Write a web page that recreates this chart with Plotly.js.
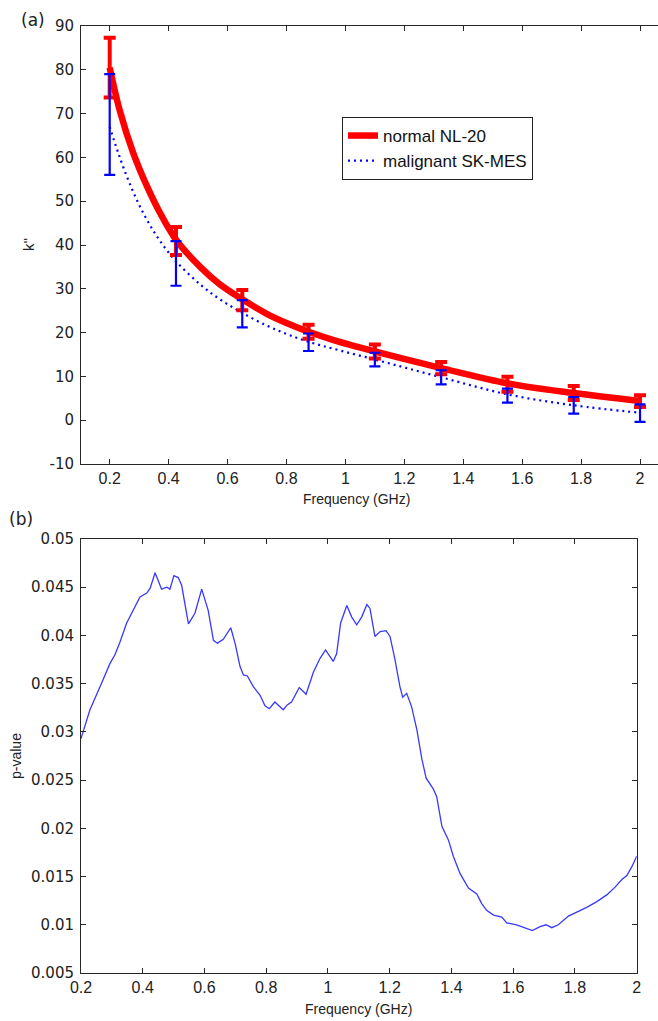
<!DOCTYPE html>
<html>
<head>
<meta charset="utf-8">
<script src="https://cdn.plot.ly/plotly-3.0.1.min.js"></script>
<style>
html,body{margin:0;padding:0;background:#fff;}
#chart{width:658px;height:1021px;}
</style>
</head>
<body>
<div id="chart"></div>
<script>
// ---------- Data: panel (a) ----------
const freqPoints = [0.2, 0.425, 0.65, 0.875, 1.1, 1.325, 1.55, 1.775, 2.0];
const normalMean = [80.5, 40.9, 27.4, 20.2, 15.7, 11.9, 8.2, 6.2, 4.35];
const normalErr  = [6.8, 3.2, 2.3, 1.6, 1.6, 1.4, 1.7, 1.6, 1.35];
const malignMean = [67.5, 35.8, 24.3, 17.8, 13.85, 9.8, 5.6, 3.4, 1.6];
const malignErr  = [11.5, 5.1, 3.1, 2.0, 1.55, 1.6, 1.6, 1.9, 2.0];

const normalLineX = [0.2, 0.235, 0.28, 0.326, 0.371, 0.425, 0.507, 0.574, 0.65, 0.733, 0.80, 0.875, 0.96, 1.1, 1.325, 1.55, 1.775, 2.0];
const normalLineY = [80.5, 70.5, 61.0, 53.5, 47.3, 41.2, 35.0, 31.0, 27.6, 24.3, 22.2, 20.2, 18.3, 15.7, 11.9, 8.4, 6.2, 4.4];
const malignLineX = [0.2, 0.229, 0.268, 0.314, 0.365, 0.425, 0.507, 0.574, 0.65, 0.733, 0.80, 0.875, 1.1, 1.325, 1.55, 1.775, 2.0];
const malignLineY = [67.0, 61.0, 54.0, 47.3, 41.5, 36.3, 31.0, 27.6, 24.5, 21.6, 19.7, 17.9, 13.85, 9.8, 5.9, 3.4, 1.7];

// ---------- Data: panel (b) ----------
const pFreq = [0.200,0.229,0.262,0.294,0.310,0.326,0.348,0.391,0.413,0.424,0.440,0.461,0.478,0.488,0.501,0.515,0.526,0.548,0.569,0.591,0.612,0.629,0.642,0.661,0.685,0.699,0.715,0.726,0.739,0.758,0.780,0.796,0.810,0.828,0.855,0.868,0.882,0.907,0.929,0.953,0.974,0.992,1.017,1.028,1.041,1.061,1.077,1.093,1.109,1.126,1.136,1.152,1.169,1.188,1.201,1.217,1.233,1.242,1.255,1.271,1.288,1.304,1.318,1.341,1.352,1.369,1.390,1.406,1.428,1.455,1.482,1.498,1.514,1.536,1.563,1.579,1.611,1.638,1.662,1.687,1.706,1.725,1.746,1.779,1.806,1.838,1.871,1.903,1.930,1.952,1.968,1.984,2.000];
const pValue = [0.0293,0.0323,0.0347,0.0371,0.0380,0.0393,0.0413,0.0440,0.0444,0.0449,0.0465,0.0448,0.0450,0.0448,0.0462,0.0460,0.0452,0.0412,0.0423,0.0448,0.0426,0.0395,0.0392,0.0396,0.0408,0.0392,0.0368,0.0359,0.0358,0.0347,0.0338,0.0327,0.0324,0.0331,0.0323,0.0328,0.0331,0.0346,0.0339,0.0362,0.0376,0.0385,0.0373,0.0381,0.0413,0.0431,0.0419,0.0411,0.0419,0.0432,0.0428,0.0399,0.0404,0.0405,0.0399,0.0375,0.0347,0.0336,0.0340,0.0326,0.0302,0.0272,0.0252,0.0241,0.0233,0.0202,0.0188,0.0171,0.0153,0.0138,0.0132,0.0122,0.0115,0.0110,0.0108,0.0102,0.0100,0.0097,0.0094,0.0098,0.0100,0.0097,0.0100,0.0109,0.0113,0.0118,0.0124,0.0131,0.0139,0.0147,0.0151,0.0160,0.0171];

// ---------- Tick labels ----------
const xTickVals = [0.2,0.4,0.6,0.8,1,1.2,1.4,1.6,1.8,2];
const xTickText = ['0.2','0.4','0.6','0.8','1','1.2','1.4','1.6','1.8','2'];
const kTickVals = [-10,0,10,20,30,40,50,60,70,80,90];
const kTickText = ['-10','0','10','20','30','40','50','60','70','80','90'];
const pTickVals = [0.005,0.01,0.015,0.02,0.025,0.03,0.035,0.04,0.045,0.05];
const pTickText = ['0.005','0.01','0.015','0.02','0.025','0.03','0.035','0.04','0.045','0.05'];

// ---------- Layout geometry (pixels) ----------
const W = 658, H = 1021, ML = 81, MR = 0, MT = 26, MB = 48;
const PW = W - ML - MR, PH = H - MT - MB;
const px = v => (v - ML) / PW;
const py = v => 1 - (v - MT) / PH;

const axisColor = '#262626';
const sans = 'Liberation Sans, Arial, sans-serif';
const yFont = {family: 'DejaVu Sans, sans-serif', size: 15, color: '#222'};
const xFont = {family: sans, size: 16, color: '#222'};

const traces = [
  {x: normalLineX, y: normalLineY, type: 'scatter', mode: 'lines', name: 'normal NL-20',
   line: {color: '#ff0000', width: 6.5, shape: 'spline', smoothing: 1}, xaxis: 'x', yaxis: 'y'},
  {x: malignLineX, y: malignLineY, type: 'scatter', mode: 'lines', name: 'malignant SK-MES',
   line: {color: '#0000ff', width: 2.2, shape: 'spline', smoothing: 1, dash: '2px,4px'}, xaxis: 'x', yaxis: 'y'},
  {x: freqPoints, y: normalMean, type: 'scatter', mode: 'markers', showlegend: false,
   marker: {size: 1, opacity: 0},
   error_y: {type: 'data', array: normalErr, visible: true, color: '#ff0000', thickness: 4, width: 6},
   xaxis: 'x', yaxis: 'y'},
  {x: freqPoints, y: malignMean, type: 'scatter', mode: 'markers', showlegend: false,
   marker: {size: 1, opacity: 0},
   error_y: {type: 'data', array: malignErr, visible: true, color: '#0000ff', thickness: 2.2, width: 5.5},
   xaxis: 'x', yaxis: 'y'},
  {x: pFreq, y: pValue, type: 'scatter', mode: 'lines', showlegend: false,
   line: {color: '#3838ff', width: 1.3}, xaxis: 'x2', yaxis: 'y2'}
];

const common = {showline: true, linecolor: axisColor, linewidth: 1, ticks: 'inside', ticklen: 5,
  tickcolor: axisColor, tickwidth: 1, showgrid: false, zeroline: false, fixedrange: true};

const layout = {
  width: W, height: H,
  margin: {l: ML, r: MR, t: MT, b: MB, pad: 0},
  paper_bgcolor: '#fff', plot_bgcolor: '#fff',
  showlegend: true,
  legend: {x: px(342), y: py(117), xanchor: 'left', yanchor: 'top',
    bgcolor: '#fff', bordercolor: '#222', borderwidth: 1,
    font: {family: sans, size: 17, color: '#111'},
    tracegroupgap: 0},
  xaxis: Object.assign({}, common, {domain: [0, 1], anchor: 'y', range: [0.1026, 2.061],
    tickmode: 'array', tickvals: xTickVals, ticktext: xTickText, tickfont: xFont, mirror: 'ticks'}),
  yaxis: Object.assign({}, common, {domain: [py(464), 1], anchor: 'x', range: [-10, 90],
    tickmode: 'array', tickvals: kTickVals, ticktext: kTickText, tickfont: yFont, mirror: false,
    ticklabelstandoff: 3}),
  xaxis2: Object.assign({}, common, {domain: [0, px(636.7)], anchor: 'y2', range: [0.2, 2],
    tickmode: 'array', tickvals: xTickVals, ticktext: xTickText, tickfont: xFont, mirror: 'ticks'}),
  yaxis2: Object.assign({}, common, {domain: [0, py(539)], anchor: 'x2', range: [0.005, 0.05],
    tickmode: 'array', tickvals: pTickVals, ticktext: pTickText, tickfont: yFont, mirror: 'ticks',
    ticklabelstandoff: 3}),
  annotations: [
    {text: '(a)', xref: 'paper', yref: 'paper', x: px(33), y: py(20), showarrow: false,
     xanchor: 'center', yanchor: 'middle', font: {family: 'DejaVu Sans, sans-serif', size: 17, color: '#222'}},
    {text: '(b)', xref: 'paper', yref: 'paper', x: px(21), y: py(519), showarrow: false,
     xanchor: 'center', yanchor: 'middle', font: {family: 'DejaVu Sans, sans-serif', size: 17, color: '#222'}},
    {text: "k''", xref: 'paper', yref: 'paper', x: px(28), y: py(245), showarrow: false, textangle: -90,
     xanchor: 'center', yanchor: 'middle', font: {family: sans, size: 15, color: '#222'}},
    {text: 'p-value', xref: 'paper', yref: 'paper', x: px(16), y: py(756), showarrow: false, textangle: -90,
     xanchor: 'center', yanchor: 'middle', font: {family: sans, size: 14, color: '#222'}},
    {text: 'Frequency (GHz)', xref: 'paper', yref: 'paper', x: px(356), y: py(499), showarrow: false,
     xanchor: 'center', yanchor: 'middle', font: {family: sans, size: 14, color: '#222'}},
    {text: 'Frequency (GHz)', xref: 'paper', yref: 'paper', x: px(358), y: py(1009), showarrow: false,
     xanchor: 'center', yanchor: 'middle', font: {family: sans, size: 14, color: '#222'}}
  ]
};

Plotly.newPlot('chart', traces, layout, {displayModeBar: false, staticPlot: true});
</script>
</body>
</html>
